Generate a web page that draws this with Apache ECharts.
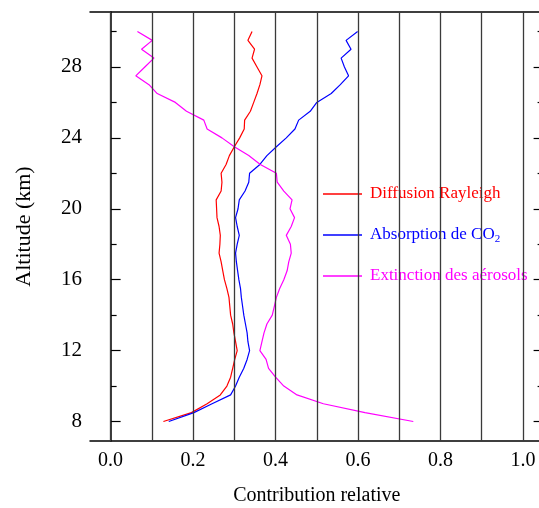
<!DOCTYPE html>
<html>
<head>
<meta charset="utf-8">
<script src="https://cdn.jsdelivr.net/npm/echarts@6/dist/echarts.min.js"></script>
<style>
html,body{margin:0;padding:0;background:#fff;overflow:hidden;}
#chart{width:546px;height:508px;}
</style>
</head>
<body>
<div id="chart"></div>
<script>
// ---- data ----
const altitudes = [8, 8.5, 9, 9.5, 10, 10.5, 11, 11.5, 12, 12.5, 13, 13.5, 14, 14.5, 15, 15.5,
  16, 16.5, 17, 17.5, 18, 18.5, 19, 19.5, 20, 20.5, 21, 21.5, 22, 22.5, 23, 23.5,
  24, 24.5, 25, 25.5, 26, 26.5, 27, 27.5, 28, 28.5, 29, 29.5, 30];

const rayleigh = [0.128, 0.196, 0.234, 0.266, 0.282, 0.291, 0.296, 0.301, 0.307, 0.303, 0.299, 0.296,
  0.291, 0.289, 0.287, 0.282, 0.276, 0.272, 0.268, 0.263, 0.265, 0.266, 0.263, 0.258,
  0.257, 0.256, 0.268, 0.270, 0.268, 0.280, 0.288, 0.300, 0.313, 0.324, 0.325, 0.339,
  0.347, 0.355, 0.362, 0.367, 0.355, 0.343, 0.349, 0.333, 0.343];

const co2 = [0.141, 0.202, 0.246, 0.291, 0.303, 0.312, 0.323, 0.331, 0.337, 0.333, 0.331, 0.327,
  0.323, 0.320, 0.317, 0.315, 0.311, 0.308, 0.305, 0.303, 0.307, 0.312, 0.307, 0.303,
  0.309, 0.312, 0.326, 0.335, 0.337, 0.362, 0.379, 0.402, 0.426, 0.447, 0.456, 0.484,
  0.500, 0.535, 0.557, 0.577, 0.567, 0.559, 0.583, 0.571, 0.599];

const aerosols = [0.734, 0.617, 0.516, 0.452, 0.420, 0.400, 0.383, 0.377, 0.362, 0.367, 0.372, 0.379,
  0.392, 0.397, 0.402, 0.410, 0.420, 0.428, 0.432, 0.438, 0.436, 0.426, 0.438, 0.446,
  0.435, 0.440, 0.420, 0.404, 0.402, 0.363, 0.335, 0.300, 0.270, 0.234, 0.226, 0.184,
  0.157, 0.113, 0.093, 0.061, 0.083, 0.105, 0.075, 0.101, 0.065];

const seriesNames = ['Diffusion Rayleigh', 'Absorption de CO2', 'Extinction des aérosols'];
const xTickLabels = [0, 0.2, 0.4, 0.6, 0.8, 1.0];
const gridValues = [0, 0.1, 0.2, 0.3, 0.4, 0.5, 0.6, 0.7, 0.8, 0.9, 1.0];
const yMajorTicks = [8, 12, 16, 20, 24, 28];
const yMinorTicks = [10, 14, 18, 22, 26, 30];

// ---- chart ----
const FONT = 'Liberation Serif';
const X_MIN = -0.05, X_MAX = 1.05, Y_MIN = 6.9, Y_MAX = 31.1;
const colors = ['#ff0000', '#0000ff', '#ff00ff'];

function pairs(xs) { return xs.map((x, i) => [x, altitudes[i]]); }

const chart = echarts.init(document.getElementById('chart'), null, { renderer: 'canvas' });

function yAx(pos, ticks, len, opts) {
  return Object.assign({
    type: 'value', position: pos, min: Y_MIN, max: Y_MAX,
    axisLine: { show: false },
    axisTick: { show: true, inside: true, length: len, customValues: ticks, lineStyle: { color: '#000', width: 1.2 } },
    axisLabel: { show: false },
    splitLine: { show: false }
  }, opts || {});
}

const option = {
  backgroundColor: '#fff',
  animation: false,
  grid: { left: 90, top: 12, width: 453.6, height: 429, containLabel: false, outerBoundsMode: 'none' },
  xAxis: [
    {
      type: 'value', position: 'bottom', min: X_MIN, max: X_MAX,
      axisLine: { show: true, lineStyle: { color: '#000', width: 1.5 } },
      axisTick: { show: false },
      splitLine: { show: false },
      axisLabel: {
        customValues: xTickLabels, margin: 10,
        formatter: v => v.toFixed(1),
        fontFamily: FONT, fontSize: 20, color: '#000'
      },
      name: 'Contribution relative', nameLocation: 'middle', nameGap: 45,
      nameTextStyle: { fontFamily: FONT, fontSize: 20, color: '#000' }
    },
    {
      type: 'value', position: 'top', min: X_MIN, max: X_MAX,
      axisLine: { show: true, lineStyle: { color: '#000', width: 1.5 } },
      axisTick: { show: false }, axisLabel: { show: false }, splitLine: { show: false }
    }
  ],
  yAxis: [
    yAx('left', yMajorTicks, 10, {
      axisLine: { show: true, lineStyle: { color: '#000', width: 1.5 } },
      axisLabel: { show: true, customValues: yMajorTicks, margin: 8, fontFamily: FONT, fontSize: 21, color: '#000' },
      name: 'Altitude (km)', nameLocation: 'middle', nameRotate: 90, nameGap: 55,
      nameTextStyle: { fontFamily: FONT, fontSize: 22, color: '#000' }
    }),
    yAx('left', yMinorTicks, 6),
    yAx('right', yMajorTicks, 10, { axisLine: { show: true, lineStyle: { color: '#000', width: 1.5 } } }),
    yAx('right', yMinorTicks, 6)
  ],
  legend: {
    orient: 'vertical', left: 323, top: 184, itemGap: 21, padding: 0,
    itemWidth: 39, itemHeight: 1.5, icon: 'rect',
    selectedMode: false,
    data: seriesNames.map((n, i) => ({ name: n, textStyle: { color: colors[i] } })),
    formatter: function (name) {
      if (name === 'Absorption de CO2') return '{t|Absorption de CO}{s|2}';
      return '{t|' + name + '}';
    },
    textStyle: {
      fontFamily: FONT, fontSize: 17, lineHeight: 20,
      rich: {
        t: { fontFamily: FONT, fontSize: 17, lineHeight: 20, padding: [0, 0, 0, 3] },
        s: { fontFamily: FONT, fontSize: 11, lineHeight: 20, padding: [9, 0, 0, 0] }
      }
    }
  },
  series: [
    {
      name: 'grid', type: 'line', data: [], z: 1, silent: true,
      markLine: {
        silent: true, symbol: ['none', 'none'], label: { show: false },
        lineStyle: { color: '#3a3a3a', type: 'solid', width: 1.3 },
        emphasis: { disabled: true },
        data: gridValues.map(v => ({ xAxis: v }))
      }
    },
    ...[rayleigh, co2, aerosols].map((arr, i) => ({
      name: seriesNames[i], type: 'line', data: pairs(arr), z: 3,
      showSymbol: false, symbol: 'none', smooth: false,
      lineStyle: { color: colors[i], width: 1.2 },
      itemStyle: { color: colors[i] }
    }))
  ]
};
chart.setOption(option);
</script>
</body>
</html>
